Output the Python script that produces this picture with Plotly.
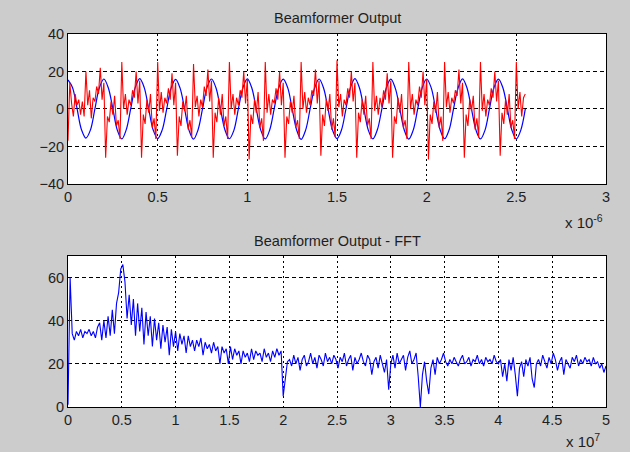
import numpy as np
import plotly.graph_objects as go

# ---- Top: Beamformer Output (time in microseconds, x 10^-6) ----
red_vals = [
    -17, 14, 3, -4, 8, 2, 5, -3, 4, -4,
    20, 2, 10, -5, 6, 4, 12, 8, 22, 5,
    14, -26, -4, -7, 4, -3, 7, -9, -6, -16,
    25, 0, 8, -3, 5, 2, 10, 6, 20, 3, 15, -26, -3, -8, 5, -2, 8, -10, -5, -16,
    25, -1, 9, -2, 6, 3, 11, 5, 19, 2, 14, -25, -4, -9, 4, -1, 7, -11, -6, -15,
    24, 1, 7, -4, 5, 1, 12, 7, 21, 4, 15, -26, -2, -7, 6, -3, 8, -9, -4, -16,
    25, 0, 8, -3, 6, 2, 10, 6, 20, 3, 16, -27, -3, -8, 5, -2, 9, -10, -5, -17,
    25, -2, 8, -3, 5, 3, 11, 5, 20, 2, 14, -26, -4, -8, 4, -2, 7, -10, -6, -16,
    25, 0, 9, -2, 6, 2, 10, 7, 21, 3, 15, -25, -3, -9, 5, -1, 8, -11, -5, -15,
    26, 1, 8, -4, 5, 2, 11, 6, 20, 4, 14, -26, -2, -7, 5, -3, 7, -9, -5, -16,
    25, -1, 7, -3, 6, 1, 10, 5, 19, 3, 15, -26, -4, -8, 6, -2, 8, -10, -6, -16,
    25, 0, 8, -3, 5, 2, 12, 6, 20, 2, 16, -27, -3, -8, 4, -2, 9, -10, -4, -17,
    25, 1, 9, -2, 6, 3, 10, 7, 21, 3, 14, -26, -3, -9, 5, -1, 7, -11, -5, -15,
    25, -1, 8, -4, 5, 2, 11, 6, 20, 4, 15, -25, -2, -8, 5, -3, 8, -10, -6, -16,
    25, 0, 9, -4, 6, 8,
]
red_dt = 0.01  # microseconds

blue_vals = [
    15.5, 11.5, 0.5, -11, -15.5, -11.2, 0, 11.3,
    16, 11.2, 0.2, -11.3, -16, -11, 0.3, 11.5,
    16.2, 11.4, 0, -11.2, -15.8, -11.3, -0.2, 11.2,
    15.8, 11.1, 0.1, -11.4, -16.1, -11.2, 0, 11.4,
    16, 11.3, 0.2, -11.1, -15.9, -11.4, 0.1, 11.2,
    16.1, 11.2, -0.1, -11.3, -16, -11.1, 0.2, 11.3,
    15.9, 11.4, 0, -11.2, -16.2, -11.3, 0, 11.1,
    16, 11.2, 0.1, -11.3, -15.8, -11.2, 0.1, 11.4,
    16.2, 11.3, 0, -11.4, -16, -11.1, -0.1, 11.2,
    15.9, 11.1, 0.2, -11.2, -16.1, -11.3, 0, 11.3,
    16, 11.4, 0.1, -11.1, -15.9, -11.2, 0.2, 11.2,
    16.1, 11.2, -0.1, -11.3, -16, -11.4, 0, 11.3,
    15.9, 11.3, 0.1, -11.2, -16, -11.3, 0,
]
blue_dt = 0.025  # microseconds

# ---- Bottom: FFT (frequency in units of 1e7) ----
fft_vals = [
    1, 60,
    34, 31, 35, 33, 36, 32, 35, 34, 36, 33, 35, 32, 37,
    39, 31, 40, 32, 42, 33, 45, 34, 48,
    53, 64, 66, 58, 41, 52, 38, 50, 33, 48, 35, 46, 29, 44, 33, 42, 28, 41, 31, 39,
    27, 38, 30, 37, 24, 36, 28, 35, 26, 34, 29, 33, 25, 33, 28, 31, 26, 31, 28, 32,
    24, 30, 27, 29, 25, 30, 26, 28, 20, 28, 25, 27, 20, 28, 22, 27, 24, 26, 20, 26,
    23, 25, 21, 27, 22, 26, 24, 25, 21, 27, 23, 25, 21, 26, 23, 27, 24, 26, 5, 13, 21,
    22, 19, 24, 20, 23, 17, 22, 24, 19, 21, 25, 20, 23, 18, 24, 22, 19, 25, 21, 23,
    20, 24, 22, 18, 23, 21, 25, 19, 22, 24, 17, 23, 20, 22, 25, 21, 19, 24, 22, 15,
    21, 23, 18, 24, 20, 16, 22,
    8, 20, 24, 18, 25, 20, 22, 24, 17, 23, 26, 20, 22, 25, 14, 0, 15, 21, 12, 6,
    18, 22, 15, 23, 20, 22, 25,
    21, 19, 22, 20, 23, 21, 19, 22, 24, 20, 21, 23, 19, 22, 21, 24, 20, 22, 19, 23,
    21, 22, 20, 24, 21,
    20, 22, 14, 20, 12, 22, 17, 23, 15, 5, 18, 21, 14, 22, 19, 23, 13, 9, 20,
    22, 19, 24, 21, 18, 23, 20, 25, 22, 17, 21, 23, 15, 22, 20, 18, 23, 21, 24, 19,
    22, 20, 23, 21, 22, 19, 23, 20, 21, 18, 20, 16, 19,
]
fft_max = 5.0

top_xticks = [0, 0.5, 1, 1.5, 2, 2.5, 3]
top_yticks = [-40, -20, 0, 20, 40]
bot_xticks = [0, 0.5, 1, 1.5, 2, 2.5, 3, 3.5, 4, 4.5, 5]
bot_yticks = [0, 20, 40, 60]

red_t = np.arange(len(red_vals)) * red_dt
blue_t = np.arange(len(blue_vals)) * blue_dt
fft_f = np.linspace(0, fft_max, len(fft_vals))

FONT = "Liberation Sans, Arial, sans-serif"
TXT = "#1e1e1e"

fig = go.Figure()
fig.add_trace(go.Scatter(x=blue_t, y=blue_vals, mode="lines",
                         line=dict(color="#0000ff", width=1.2, shape="spline"),
                         xaxis="x", yaxis="y", showlegend=False))
fig.add_trace(go.Scatter(x=red_t, y=red_vals, mode="lines",
                         line=dict(color="#ff0000", width=1.1),
                         xaxis="x", yaxis="y", showlegend=False))
fig.add_trace(go.Scatter(x=fft_f, y=fft_vals, mode="lines",
                         line=dict(color="#0000ff", width=1.1),
                         xaxis="x2", yaxis="y2", showlegend=False))

ax_common = dict(showline=True, linecolor="black", linewidth=1, mirror=True,
                 showgrid=True, gridcolor="black", gridwidth=1,
                 zeroline=False, ticks="", tickfont=dict(family=FONT, size=14.5, color=TXT))

fig.update_layout(
    width=630, height=452,
    margin=dict(l=68, r=24, t=34, b=45),
    paper_bgcolor="#cccccc", plot_bgcolor="white",
    xaxis=dict(domain=[0, 1], range=[0, 3], tickvals=top_xticks,
               ticktext=[str(v) for v in top_xticks], griddash="2px,3px",
               anchor="y", **ax_common),
    yaxis=dict(domain=[0.598, 1], range=[-40, 40], tickvals=top_yticks,
               griddash="4px,3px", anchor="x", **ax_common),
    xaxis2=dict(domain=[0, 1], range=[0, 5], tickvals=bot_xticks,
                ticktext=[str(v) for v in bot_xticks], griddash="2px,3px",
                anchor="y2", **ax_common),
    yaxis2=dict(domain=[0, 0.405], range=[0, 70], tickvals=bot_yticks,
                griddash="4px,3px", anchor="x2", **ax_common),
    annotations=[
        dict(text="Beamformer Output", xref="paper", yref="paper", x=0.5, y=1.0,
             yshift=16, showarrow=False, xanchor="center", yanchor="middle",
             font=dict(family=FONT, size=14.5, color=TXT)),
        dict(text="Beamformer Output - FFT", xref="paper", yref="paper", x=0.5, y=0.405,
             yshift=15, showarrow=False, xanchor="center", yanchor="middle",
             font=dict(family=FONT, size=14.5, color=TXT)),
        dict(text="x 10<sup>-6</sup>", xref="paper", yref="paper", x=1.0, y=0.598,
             xshift=-1, yshift=-38, showarrow=False, xanchor="right", yanchor="middle",
             font=dict(family=FONT, size=15, color=TXT)),
        dict(text="x 10<sup>7</sup>", xref="paper", yref="paper", x=1.0, y=0.0,
             xshift=-4, yshift=-33, showarrow=False, xanchor="right", yanchor="middle",
             font=dict(family=FONT, size=15, color=TXT)),
    ],
)

fig.write_html("out.html")
